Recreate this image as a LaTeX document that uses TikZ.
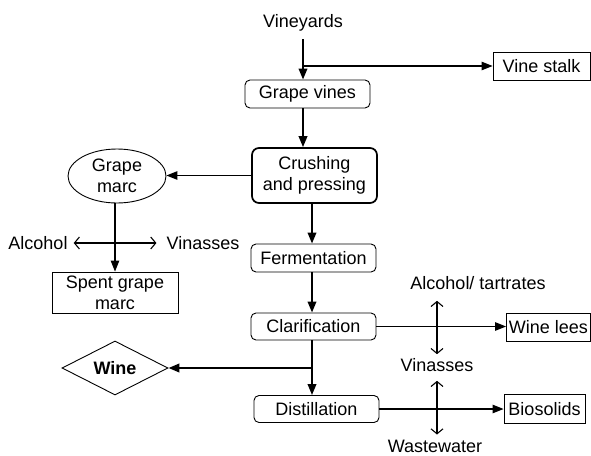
\documentclass[tikz,border=0pt]{standalone}
\usepackage{fontspec}
\setmainfont{Liberation Sans}
\usetikzlibrary{arrows.meta,shapes.geometric}
\begin{document}
\begin{tikzpicture}[x=1pt,y=-1pt,
  every node/.style={font=\fontsize{18}{21}\selectfont},
  lbl/.style={inner sep=0pt},
  rbox/.style={draw,line width=0.9pt,rounded corners=5pt,minimum width=125pt,inner sep=0pt,align=center},
  sbox/.style={draw,line width=0.9pt,inner sep=0pt,align=center},
  thickflow/.style={line width=2pt,-{Triangle[length=11pt,width=8.5pt]}},
  thinflow/.style={line width=1.1pt,-{Triangle[length=11pt,width=8.5pt]}},
  dbl/.style={line width=1.1pt,{Straight Barb[length=5pt,width=12pt]}-{Straight Barb[length=5pt,width=12pt]}}
]
\useasboundingbox (0,0) rectangle (591,455);

% nodes
\node[lbl,anchor=south,inner ysep=8pt] (vineyards) at (303,39) {Vineyards};
\node[rbox,minimum height=28pt] (grapevines) at (307.5,94) {Grape vines};
\node[sbox,minimum width=97pt,minimum height=28pt] (vinestalk) at (541.5,66) {Vine stalk};
\node[rbox,line width=1.7pt,rounded corners=7pt,minimum height=55pt] (crushing) at (314.5,175.5) {Crushing\\and pressing};
\node[draw,ellipse,line width=0.9pt,minimum width=98pt,minimum height=54pt,inner sep=0pt,align=center] (grapemarc) at (117,176) {Grape\\marc};
\node[lbl] (alcohol1) at (38,243) {Alcohol};
\node[lbl] (vinasses1) at (203,243) {Vinasses};
\node[sbox,minimum width=126pt,minimum height=41pt] (spent) at (115,292.5) {Spent grape\\marc};
\node[rbox,minimum height=28pt] (fermentation) at (313.5,258) {Fermentation};
\node[rbox,minimum height=27pt] (clarification) at (313.5,326.5) {Clarification};
\node[draw,diamond,aspect=2,line width=0.9pt,minimum width=106pt,minimum height=54pt,inner sep=0pt,font=\fontsize{18}{21}\selectfont\bfseries] (wine) at (115,368) {Wine};
\node[rbox,minimum height=27pt] (distillation) at (316.5,409) {Distillation};
\node[lbl] (alctart) at (478,283) {Alcohol/ tartrates};
\node[sbox,minimum width=84pt,minimum height=28pt] (winelees) at (548.5,327) {Wine lees};
\node[lbl] (vinasses2) at (437,365) {Vinasses};
\node[sbox,minimum width=81pt,minimum height=29pt] (biosolids) at (544.5,409) {Biosolids};
\node[lbl] (wastewater) at (435,446) {Wastewater};

% connectors
\coordinate (j1) at (303,66);
\draw[thickflow] (vineyards.south) -- (vineyards.south |- grapevines.north);
\draw[thinflow] (j1) -- (vinestalk.west);
\draw[thickflow] (grapevines.south -| j1) -- (crushing.north -| j1);
\draw[thinflow] (crushing.west) -- (crushing.west -| grapemarc.east);
\draw[thickflow] (crushing.south -| 312,0) -- (fermentation.north -| 312,0);
\draw[thinflow] (grapemarc.south -| spent.north) -- (spent.north);
\draw[dbl,shorten <=6pt,shorten >=10pt] (alcohol1.east) -- (vinasses1.west);
\draw[thickflow] (fermentation.south -| 312,0) -- (clarification.north -| 312,0);
\coordinate (j2) at (312,368);
\draw[thickflow] (clarification.south -| j2) -- (distillation.north -| j2);
\draw[line width=2.2pt,-{Triangle[length=11pt,width=8.5pt]}] (j2) -- (wine.east);
\draw[thinflow] (clarification.east) -- (clarification.east -| winelees.west);
\draw[thinflow] (distillation.east) -- (distillation.east -| biosolids.west);
\draw[dbl,shorten <=11pt,shorten >=4pt] (alctart.south -| vinasses2.north) -- (vinasses2.north);
\draw[dbl,shorten <=9pt,shorten >=5pt] (vinasses2.south) -- (vinasses2.south |- wastewater.north);
\end{tikzpicture}
\end{document}
